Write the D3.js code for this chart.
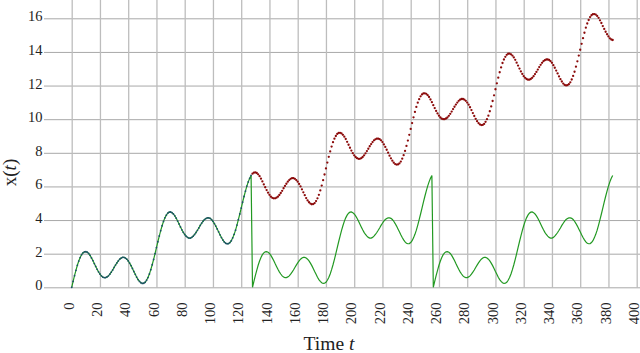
<!DOCTYPE html>
<html><head><meta charset="utf-8">
<script src="https://cdn.jsdelivr.net/npm/d3@7"></script>
<style>
body{margin:0;background:#fff}
svg{display:block}
svg text{font-family:"Liberation Serif","Times New Roman",serif !important;fill:#222}
</style>
</head><body><svg id="c" width="640" height="353"></svg>
<script>
// ---- data ----
const xTickLabels = [0,20,40,60,80,100,120,140,160,180,200,220,240,260,280,300,320,340,360,380,400];
const yTickLabels = [0,2,4,6,8,10,12,14,16];
// x(t) sampled at t = 0,1,2,...,383
const xValues = [
0,0.35,0.69,1.01,1.31,1.56,1.77,1.94,2.05,2.11,2.12,2.09,2.01,1.90,1.75,1.59,1.41,1.24,1.07,0.92,0.79,0.68,0.61,0.58,0.58,0.62,0.68,0.78,0.90,1.03,1.18,1.32,1.45,1.57,1.67,1.74,1.78,1.78,1.74,1.67,1.57,1.44,1.29,1.12,0.94,0.77,0.60,0.46,0.35,0.27,0.23,0.24,0.30,0.42,0.58,0.79,1.05,1.34,1.66,2.00,
2.36,2.71,3.05,3.37,3.66,3.92,4.13,4.29,4.41,4.47,4.48,4.44,4.36,4.25,4.11,3.94,3.77,3.59,3.42,3.27,3.14,3.04,2.97,2.93,2.93,2.97,3.04,3.14,3.26,3.39,3.53,3.68,3.81,3.93,4.03,4.09,4.13,4.13,4.10,4.03,3.93,3.79,3.64,3.47,3.30,3.12,2.96,2.82,2.70,2.62,2.59,2.60,2.66,2.77,2.94,3.15,3.40,3.70,4.02,4.36,
4.71,5.06,5.40,5.72,6.02,6.27,6.48,6.65,6.76,6.82,6.83,6.80,6.72,6.61,6.46,6.30,6.12,5.95,5.78,5.63,5.50,5.39,5.32,5.29,5.29,5.33,5.39,5.49,5.61,5.74,5.89,6.03,6.16,6.28,6.38,6.45,6.49,6.49,6.45,6.38,6.28,6.15,6.00,5.83,5.65,5.48,5.31,5.17,5.06,4.98,4.94,4.95,5.01,5.13,5.29,5.50,5.76,6.05,6.37,6.71,
7.07,7.42,7.76,8.08,8.37,8.63,8.84,9.00,9.12,9.18,9.19,9.15,9.07,8.96,8.82,8.65,8.48,8.30,8.13,7.98,7.85,7.75,7.68,7.64,7.64,7.68,7.75,7.85,7.97,8.10,8.24,8.39,8.52,8.64,8.74,8.80,8.84,8.84,8.81,8.74,8.64,8.50,8.35,8.18,8.01,7.83,7.67,7.53,7.41,7.33,7.30,7.31,7.37,7.48,7.65,7.86,8.11,8.41,8.73,9.07,
9.42,9.77,10.11,10.43,10.73,10.98,11.19,11.36,11.47,11.53,11.54,11.51,11.43,11.32,11.17,11.01,10.83,10.66,10.49,10.34,10.21,10.10,10.03,10.00,10.00,10.04,10.10,10.20,10.32,10.45,10.60,10.74,10.87,10.99,11.09,11.16,11.20,11.20,11.16,11.09,10.99,10.86,10.71,10.54,10.36,10.19,10.02,9.88,9.77,9.69,9.65,9.66,9.72,9.84,10.00,10.21,10.47,10.76,11.08,11.42,
11.78,12.13,12.47,12.79,13.08,13.34,13.55,13.71,13.83,13.89,13.90,13.86,13.78,13.67,13.53,13.36,13.19,13.01,12.84,12.69,12.56,12.46,12.39,12.35,12.35,12.39,12.46,12.56,12.68,12.81,12.95,13.10,13.23,13.35,13.45,13.51,13.55,13.55,13.52,13.45,13.35,13.21,13.06,12.89,12.72,12.54,12.38,12.24,12.12,12.04,12.01,12.02,12.08,12.19,12.36,12.57,12.82,13.12,13.44,13.78,
14.13,14.48,14.82,15.14,15.44,15.69,15.90,16.07,16.18,16.24,16.25,16.22,16.14,16.03,15.88,15.72,15.54,15.37,15.20,15.05,14.92,14.81,14.74,14.71
];
const resetPeriod = 128; // the green curve restarts every 128 time units

// ---- derived series ----
const pts = xValues.map((v, t) => ({t, v}));
const tealDots = pts.filter(d => d.t < resetPeriod);
const redDots = pts.filter(d => d.t >= resetPeriod);
const greenLine = pts.map(d => ({t: d.t, v: xValues[d.t % resetPeriod]}));

// ---- scales ----
const x = d3.scaleLinear().domain([0, 400]).range([71.7, 636.7]);
const y = d3.scaleLinear().domain([0, 16]).range([287.3, 18.3]);

const svg = d3.select('#c');
const serif = '"Liberation Serif","Times New Roman",serif';

// horizontal grid + y labels
const gy = svg.append('g').attr('transform', 'translate(44,0)')
  .call(d3.axisLeft(y).tickValues(yTickLabels).tickSize(-(640 - 44)).tickPadding(1.5).tickFormat(d3.format('d')));
gy.attr('font-family', serif).attr('font-size', 14.5);
gy.select('.domain').remove();
gy.selectAll('.tick line').attr('stroke', '#a8a8a8').attr('stroke-width', 1);
gy.selectAll('.tick text').attr('dy', '0.17em')
  .style('font-family', serif).style('font-size', '14.5px').attr('fill', '#222');

// vertical grid + x labels
const gx = svg.append('g').attr('transform', 'translate(0,0)')
  .call(d3.axisBottom(x).tickValues(xTickLabels).tickSize(288).tickFormat(d3.format('d')));
gx.attr('font-family', serif).attr('font-size', 14.5);
gx.select('.domain').remove();
gx.selectAll('.tick line').attr('stroke', '#bdbdbd').attr('stroke-width', 1.3);
gx.selectAll('.tick text')
  .attr('transform', 'rotate(-90)')
  .attr('x', -302.5).attr('y', 1.7).attr('dy', 0)
  .attr('text-anchor', 'end')
  .style('font-family', serif).style('font-size', '14.5px').attr('fill', '#222');

// green line
svg.append('path').datum(greenLine)
  .attr('fill', 'none').attr('stroke', '#229922').attr('stroke-width', 1.2)
  .attr('d', d3.line().x(d => x(d.t)).y(d => y(d.v)));

// teal dots
svg.append('g').selectAll('circle').data(tealDots).join('circle')
  .attr('cx', d => x(d.t)).attr('cy', d => y(d.v)).attr('r', 0.9)
  .attr('fill', '#1d4f6a');

// red dots
svg.append('g').selectAll('circle').data(redDots).join('circle')
  .attr('cx', d => x(d.t)).attr('cy', d => y(d.v)).attr('r', 1.15)
  .attr('fill', '#8b0a0a');

// axis titles
const yl = svg.append('text')
  .attr('transform', 'translate(15.5,172.5) rotate(-90)')
  .attr('text-anchor', 'middle').style('font-family', serif).style('font-size', '19px');
yl.append('tspan').text('x(');
yl.append('tspan').attr('font-style', 'italic').text('t');
yl.append('tspan').text(')');

const xl = svg.append('text')
  .attr('x', 329).attr('y', 349.5)
  .attr('text-anchor', 'middle').style('font-family', serif).style('font-size', '19.5px');
xl.append('tspan').text('Time ');
xl.append('tspan').attr('font-style', 'italic').text('t');
</script>
</body></html>
